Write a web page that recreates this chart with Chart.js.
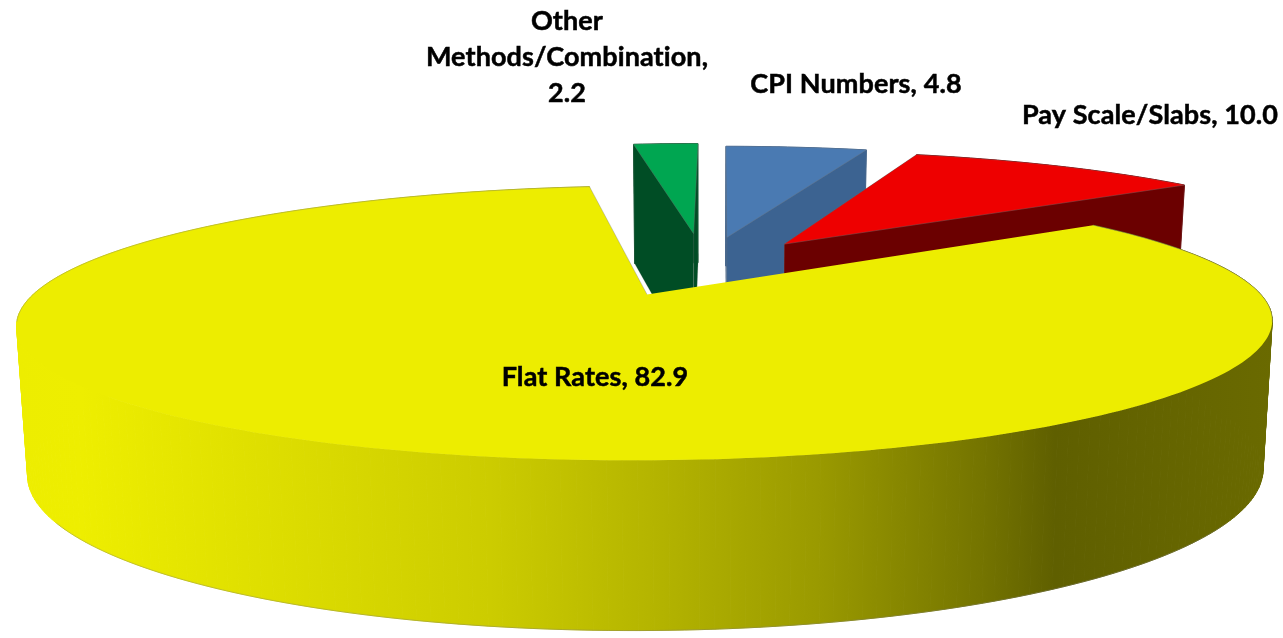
<!DOCTYPE html>
<html>
<head>
<meta charset="utf-8">
<style>
  html, body { margin: 0; padding: 0; background: #fff; }
  #chart { display: block; }
</style>
<script src="https://cdn.jsdelivr.net/npm/chart.js@4/dist/chart.umd.min.js"></script>
</head>
<body>
<canvas id="chart" width="1283" height="638"></canvas>
<script>
const categories = ['Other Methods/Combination', 'CPI Numbers', 'Pay Scale/Slabs', 'Flat Rates'];
const seriesValues = [2.2, 4.8, 10.0, 82.9];
const topColors = ['#00a651', '#4a7ab2', '#ee0000', '#eded00'];
const sideColors = ['#004d25', '#3c6391', '#6b0000', '#6b6b00'];
const explodeOffsets = [82, 73, 68, 66];
const labelLines = [['Other', 'Methods/Combination,', '2.2'], ['CPI Numbers, 4.8'], ['Pay Scale/Slabs, 10.0'], ['Flat Rates, 82.9']];
const labelAnchors = [[567, 30], [856, 93], [1150, 124], [595, 386]];
const wallStops = [[0, '#eded00'], [0.053, '#eeee00'], [0.183, '#e0e000'], [0.378, '#cccc00'], [0.509, '#b4b400'], [0.638, '#9a9a00'], [0.769, '#747400'], [0.827, '#5f5f00'], [1, '#6a6a00']];

// Camera for the tilted pie
const cam = { cx: 704, cy: 267, ax: 587, by: 120, p: 0.2, depth: 140, shrink: 0.984 };

function project(x, y, deep) {
  const w = 1 + cam.p * y;
  const sx = cam.cx + (cam.ax * x / w) * (deep ? cam.shrink : 1);
  const sy = cam.cy - cam.by * y / w + (deep ? cam.depth / Math.pow(w, 0.7) : 0);
  return [sx, sy];
}

function arcPoints(el) {
  const mid = (el.startAngle + el.endAngle) / 2;
  const ex = el.options.offset / el.outerRadius;
  const ox = Math.cos(mid) * ex;
  const oy = -Math.sin(mid) * ex;
  const rim = [];
  const steps = Math.ceil((el.endAngle - el.startAngle) / 0.02);
  for (let i = 0; i <= steps; i++) {
    const a = el.startAngle + (el.endAngle - el.startAngle) * i / steps;
    rim.push([ox + Math.cos(a), oy - Math.sin(a)]);
  }
  return { centre: [ox, oy], rim };
}

function fillPoly(ctx, pts, fill, stroke, width) {
  ctx.beginPath();
  pts.forEach((p, i) => i ? ctx.lineTo(p[0], p[1]) : ctx.moveTo(p[0], p[1]));
  ctx.closePath();
  ctx.fillStyle = fill;
  ctx.fill();
  if (stroke) {
    ctx.strokeStyle = stroke;
    ctx.lineWidth = width || 0.8;
    ctx.stroke();
  }
}

function strokeLine(ctx, a, b) {
  ctx.beginPath();
  ctx.moveTo(a[0], a[1]);
  ctx.lineTo(b[0], b[1]);
  ctx.strokeStyle = 'rgba(120,120,120,0.45)';
  ctx.lineWidth = 0.8;
  ctx.stroke();
}

const pie3d = {
  id: 'pie3d',
  beforeDatasetsDraw(chart) {
    const ctx = chart.ctx;
    const arcs = chart.getDatasetMeta(0).data;
    arcs.forEach((el, i) => {
      const { centre, rim } = arcPoints(el);
      const last = i === arcs.length - 1;
      let sideFill = sideColors[i];
      if (last) {
        const g = ctx.createLinearGradient(15, 0, 1273, 0);
        wallStops.forEach(s => g.addColorStop(s[0], s[1]));
        sideFill = g;
      }
      // outer wall, one quad per rim step so it folds properly at the sides
      for (let k = 0; k < rim.length - 1; k++) {
        fillPoly(ctx, [
          project(rim[k][0], rim[k][1], false),
          project(rim[k + 1][0], rim[k + 1][1], false),
          project(rim[k + 1][0], rim[k + 1][1], true),
          project(rim[k][0], rim[k][1], true)
        ], sideFill, sideFill, 1);
      }
      // cut faces, not needed on the big slice because its top covers them
      if (!last) {
        [rim[0], rim[rim.length - 1]].forEach(end => {
          fillPoly(ctx, [
            project(centre[0], centre[1], false),
            project(end[0], end[1], false),
            project(end[0], end[1], true),
            project(centre[0], centre[1], true)
          ], sideFill, 'rgba(120,120,120,0.25)');
        });
      }
      // top face
      const top = [project(centre[0], centre[1], false)].concat(rim.map(p => project(p[0], p[1], false)));
      fillPoly(ctx, top, topColors[i], last ? null : 'rgba(120,120,120,0.35)');
      if (last) {
        // only the back edge and the bottom silhouette carry the thin grey line
        for (let k = 0; k < rim.length - 1; k++) {
          const p = rim[k], q = rim[k + 1];
          if (p[1] - centre[1] > -0.2) {
            strokeLine(ctx, project(p[0], p[1], false), project(q[0], q[1], false));
          }
          if (p[1] - centre[1] < -0.5) {
            strokeLine(ctx, project(p[0], p[1], true), project(q[0], q[1], true));
          }
        }
        strokeLine(ctx, top[0], top[top.length - 1]);
      }
    });
    return false;
  },
  afterDraw(chart) {
    const ctx = chart.ctx;
    ctx.save();
    ctx.font = 'bold 27px Lato, "Open Sans", sans-serif';
    ctx.letterSpacing = '0.1px';
    ctx.fillStyle = '#000';
    ctx.strokeStyle = '#000';
    ctx.lineWidth = 0.5;
    ctx.textAlign = 'center';
    ctx.textBaseline = 'alphabetic';
    labelLines.forEach((lines, i) => {
      lines.forEach((line, j) => {
        ctx.fillText(line, labelAnchors[i][0], labelAnchors[i][1] + j * 36);
        ctx.strokeText(line, labelAnchors[i][0], labelAnchors[i][1] + j * 36);
      });
    });
    ctx.restore();
  }
};

new Chart(document.getElementById('chart'), {
  type: 'pie',
  data: {
    labels: categories,
    datasets: [{
      data: seriesValues,
      backgroundColor: topColors,
      offset: explodeOffsets,
      borderWidth: 0
    }]
  },
  options: {
    responsive: false,
    animation: false,
    rotation: -7.6,
    plugins: { legend: { display: false }, tooltip: { enabled: false } }
  },
  plugins: [pie3d]
});
</script>
</body>
</html>
